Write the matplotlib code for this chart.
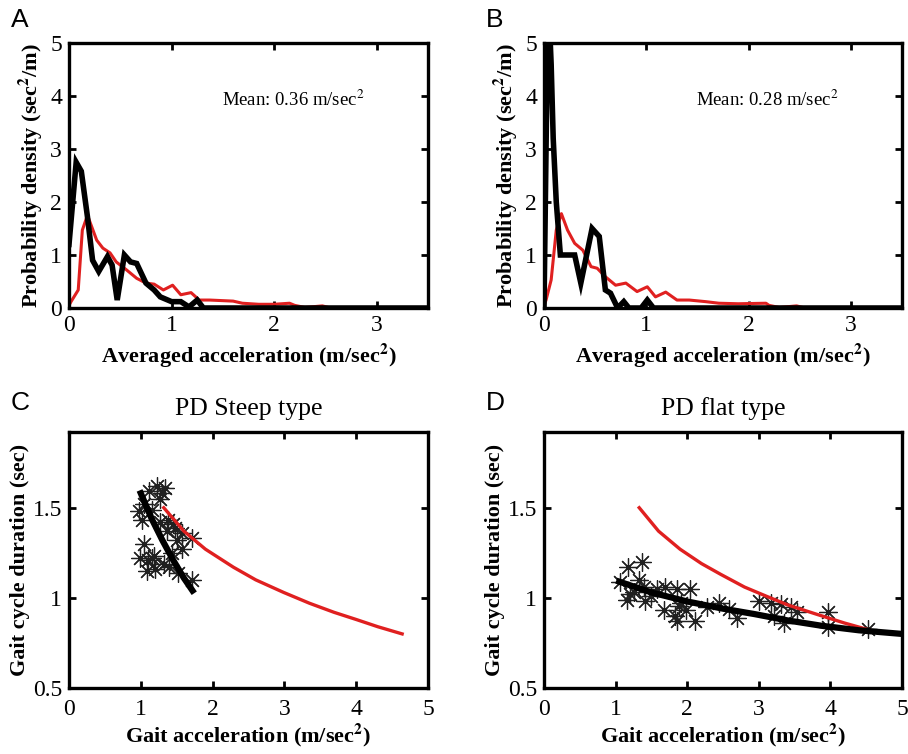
import matplotlib
matplotlib.use("Agg")
import matplotlib.pyplot as plt
import numpy as np

# ---------------- data ----------------
# Panel A: probability density of averaged acceleration
a_red_x = [0.0, 0.02, 0.09, 0.13, 0.18, 0.27, 0.33, 0.40, 0.46, 0.56, 0.66, 0.75, 0.83, 0.92,
           1.01, 1.09, 1.19, 1.27, 1.37, 1.60, 1.69, 1.85, 2.00, 2.15, 2.20, 2.30, 2.47, 2.55, 3.5]
a_red_y = [0.05, 0.12, 0.34, 1.47, 1.75, 1.28, 1.13, 1.04, 0.87, 0.72, 0.56, 0.47, 0.45, 0.34,
           0.43, 0.25, 0.29, 0.15, 0.15, 0.13, 0.09, 0.07, 0.07, 0.09, 0.05, 0.01, 0.04, 0.0, 0.0]
a_blk_x = [0.0, 0.07, 0.12, 0.18, 0.23, 0.29, 0.375, 0.42, 0.47, 0.54, 0.60, 0.66, 0.75, 0.83,
           0.89, 1.0, 1.09, 1.17, 1.25, 1.31, 3.5]
a_blk_y = [1.2, 2.75, 2.58, 1.72, 0.9, 0.69, 0.97, 0.81, 0.15, 1.0, 0.87, 0.84, 0.47, 0.34,
           0.21, 0.12, 0.12, 0.02, 0.15, 0.0, 0.0]
a_mean = r"Mean: 0.36 m/sec$^{2}$"

# Panel B
b_red_x = [0.0, 0.02, 0.07, 0.12, 0.17, 0.23, 0.30, 0.38, 0.46, 0.52, 0.60, 0.70, 0.80, 0.91,
           1.01, 1.09, 1.19, 1.30, 1.42, 1.58, 1.71, 1.90, 2.17, 2.20, 2.30, 2.47, 2.55, 3.5]
b_red_y = [0.05, 0.15, 0.53, 1.47, 1.78, 1.47, 1.22, 1.09, 0.78, 0.75, 0.59, 0.43, 0.47, 0.31,
           0.40, 0.21, 0.30, 0.15, 0.15, 0.12, 0.09, 0.08, 0.09, 0.05, 0.01, 0.04, 0.0, 0.0]
b_blk_x = [0.0, 0.04, 0.07, 0.09, 0.12, 0.16, 0.30, 0.36, 0.47, 0.54, 0.60, 0.65, 0.72, 0.78,
           0.83, 0.95, 1.01, 1.07, 3.5]
b_blk_y = [0.0, 6.0, 4.6, 3.2, 2.0, 1.0, 1.0, 0.47, 1.5, 1.35, 0.34, 0.28, 0.0, 0.12,
           0.0, 0.0, 0.15, 0.0, 0.0]
b_mean = r"Mean: 0.28 m/sec$^{2}$"

# Panel C: PD steep type
c_pts_x = [1.11, 1.22, 1.34, 1.27, 1.04, 0.97, 1.15, 1.01, 1.27, 1.38, 1.48, 1.36, 1.57, 1.50,
           1.71, 1.04, 1.18, 0.99, 1.10, 1.57, 1.43, 1.32, 1.20, 1.08, 1.39, 1.71, 1.52, 1.45,
           1.30, 1.15]
c_pts_y = [1.59, 1.62, 1.61, 1.55, 1.52, 1.48, 1.49, 1.43, 1.42, 1.43, 1.39, 1.37, 1.36, 1.32,
           1.33, 1.30, 1.23, 1.22, 1.21, 1.27, 1.25, 1.19, 1.16, 1.15, 1.17, 1.10, 1.14, 1.41,
           1.58, 1.22]
c_fit_x = [1.0, 1.15, 1.30, 1.45, 1.60, 1.72]
c_fit_y = [1.58, 1.44, 1.32, 1.21, 1.11, 1.04]

# reference (healthy) curve in C
ref_x = [1.32, 1.6, 1.9, 2.29, 2.6, 2.99, 3.35, 3.69, 4.0, 4.3, 4.64]
ref_y = [1.50, 1.37, 1.27, 1.17, 1.10, 1.03, 0.97, 0.92, 0.88, 0.84, 0.80]

# Panel D: PD flat type
d_pts_x = [1.06, 1.18, 1.37, 1.32, 1.20, 1.39, 1.41, 1.16, 1.58, 1.69, 1.86, 2.04, 1.67, 1.83,
           1.86, 2.11, 1.88, 1.98, 2.44, 2.58, 2.70, 3.00, 3.17, 3.31, 3.45, 3.54, 3.35, 3.96,
           3.96, 4.53, 3.21, 2.28, 1.25, 1.50, 1.92]
d_pts_y = [1.09, 1.17, 1.20, 1.10, 1.02, 1.06, 0.98, 0.99, 1.05, 1.06, 1.05, 1.05, 0.93, 0.90,
           0.87, 0.87, 0.955, 0.93, 0.97, 0.94, 0.89, 0.98, 0.97, 0.965, 0.95, 0.92, 0.86, 0.92,
           0.84, 0.83, 0.90, 0.95, 1.03, 1.01, 0.97]
d_fit_x = [1.05, 1.5, 2.0, 2.5, 2.94, 3.4, 3.88, 4.4, 5.0]
d_fit_y = [1.09, 1.03, 0.98, 0.94, 0.91, 0.875, 0.845, 0.82, 0.80]
d_ref_x = [1.33, 1.6, 1.9, 2.2, 2.47, 2.8, 3.1, 3.41, 3.8, 4.2, 4.65]
d_ref_y = [1.50, 1.37, 1.27, 1.19, 1.13, 1.06, 1.01, 0.96, 0.91, 0.86, 0.81]

letters = ["A", "B", "C", "D"]
titles_cd = ["PD Steep type", "PD flat type"]

# ---------------- style ----------------
plt.rcParams['font.family'] = ['Liberation Serif', 'DejaVu Serif']
plt.rcParams['mathtext.fontset'] = 'stix'

fig = plt.figure(figsize=(9.08, 7.54), dpi=100)
W, H = 908.0, 754.0

def ax_at(l, t, r, b):
    return fig.add_axes([l / W, 1 - b / H, (r - l) / W, (b - t) / H])

axA = ax_at(69, 43, 428, 308)
axB = ax_at(544, 43, 902, 308)
axC = ax_at(69, 432, 428, 688)
axD = ax_at(544, 432, 902, 688)

def style(ax, xpad=5):
    for s in ax.spines.values():
        s.set_linewidth(2.4)
    ax.tick_params(direction='in', length=5, width=2, top=True, right=True,
                   labelsize=17, pad=5)
    ax.tick_params(axis='x', pad=xpad)

RED = '#e02020'
lab_kw = dict(fontsize=16, fontweight='bold')

for ax, rx, ry, bx, by, mean in [(axA, a_red_x, a_red_y, a_blk_x, a_blk_y, a_mean),
                                 (axB, b_red_x, b_red_y, b_blk_x, b_blk_y, b_mean)]:
    ax.plot(rx, ry, color=RED, lw=2.2, zorder=2)
    ax.plot(bx, by, color='black', lw=4.0, zorder=3, solid_joinstyle='miter')
    ax.set_xlim(0, 3.5)
    ax.set_ylim(0, 5)
    ax.set_xticks([0, 1, 2, 3])
    ax.set_yticks([0, 1, 2, 3, 4, 5])
    ax.set_xlabel(r"Averaged acceleration (m/sec$^{\mathbf{2}}$)", labelpad=4, **lab_kw)
    ax.set_ylabel(r"Probability density (sec$^{\mathbf{2}}$/m)", labelpad=4, **lab_kw)
    ax.text(1.49, 3.92, mean, fontsize=13.5, va='center', ha='left')
    style(ax)

for ax, px, py, fx, fy, rfx, rfy, title in [
        (axC, c_pts_x, c_pts_y, c_fit_x, c_fit_y, ref_x, ref_y, titles_cd[0]),
        (axD, d_pts_x, d_pts_y, d_fit_x, d_fit_y, d_ref_x, d_ref_y, titles_cd[1])]:
    ax.plot(px, py, linestyle='none', marker=(8, 2, 0), markersize=13,
            markeredgewidth=0.9, color='#202020', zorder=2)
    ax.plot(rfx, rfy, color=RED, lw=2.4, zorder=3)
    ax.plot(fx, fy, color='black', lw=4.5, zorder=4)
    ax.set_xlim(0, 5)
    ax.set_ylim(0.5, 1.92)
    ax.set_xticks([0, 1, 2, 3, 4, 5])
    ax.set_yticks([0.5, 1, 1.5])
    ax.set_yticklabels(['0.5', '1', '1.5'])
    ax.set_xlabel(r"Gait acceleration (m/sec$^{\mathbf{2}}$)", labelpad=1, **lab_kw)
    ax.set_ylabel("Gait cycle duration (sec)", labelpad=2, **lab_kw)
    ax.set_title(title, fontsize=18.5, pad=12)
    style(ax, xpad=8)

for lab, (x, y) in zip(letters, [(11, 8), (486, 8), (11, 391), (486, 391)]):
    fig.text(x / W, 1 - y / H, lab, fontsize=19, family='Liberation Sans',
             va='top', ha='left')

fig.savefig("out.png", dpi=100)
